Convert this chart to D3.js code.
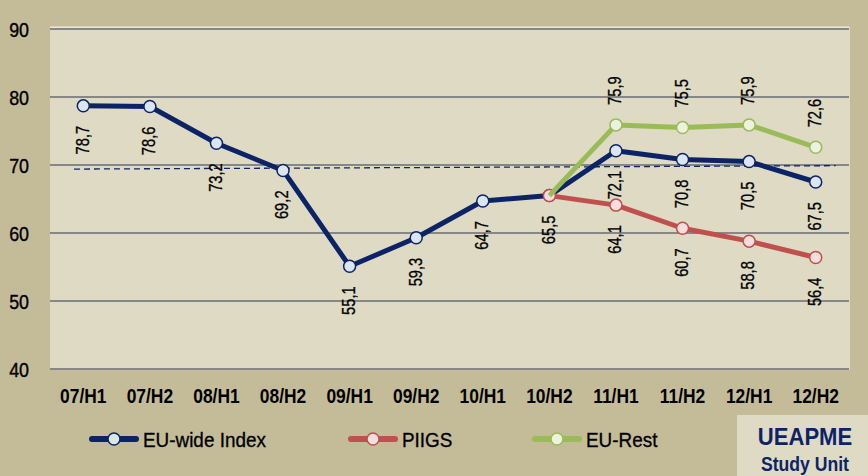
<!DOCTYPE html>
<html>
<head>
<meta charset="utf-8">
<script src="https://cdn.jsdelivr.net/npm/d3@7"></script>
<style>
  body { margin: 0; background: #c4bc98; }
  svg { display: block; font-family: "Liberation Sans", Arial, sans-serif; }
</style>
</head>
<body>
<div id="chart-container"></div>
<script>
const width = 868, height = 476;
const margin = { top: 29, left: 50, right: 19, bottom: 107 };

const categories = ["07/H1", "07/H2", "08/H1", "08/H2", "09/H1", "09/H2",
  "10/H1", "10/H2", "11/H1", "11/H2", "12/H1", "12/H2"];
const euWide = [78.7, 78.6, 73.2, 69.2, 55.1, 59.3, 64.7, 65.5, 72.1, 70.8, 70.5, 67.5];
const piigs = [null, null, null, null, null, null, null, 65.5, 64.1, 60.7, 58.8, 56.4];
const euRest = [null, null, null, null, null, null, null, 65.5, 75.9, 75.5, 75.9, 72.6];
const trend = [69.4, 69.9];
const yTicks = [40, 50, 60, 70, 80, 90];

const series = [
  { name: "EU-wide Index", values: euWide, color: "#0c2466", fill: "#dce6f2", labelPos: "below", skipFirstMarker: false },
  { name: "PIIGS", values: piigs, color: "#c0504d", fill: "#f5dedd", labelPos: "below", skipFirstMarker: false, skipFirstLabel: true },
  { name: "EU-Rest", values: euRest, color: "#9bbb59", fill: "#edf2e0", labelPos: "above", skipFirstMarker: true, skipFirstLabel: true }
];

const svg = d3.select("#chart-container").append("svg")
  .attr("width", width).attr("height", height);

svg.append("rect").attr("width", width).attr("height", height).attr("fill", "#c4bc98");

const x = d3.scaleBand().domain(categories).range([margin.left, width - margin.right]);
const y = d3.scaleLinear().domain([40, 90]).range([height - margin.bottom, margin.top]);
const cx = c => x(c) + x.bandwidth() / 2;

// plot area
svg.append("rect")
  .attr("x", margin.left).attr("y", margin.top - 2)
  .attr("width", width - margin.right - margin.left + 1)
  .attr("height", height - margin.bottom - margin.top + 3)
  .attr("fill", "#dedac4");
svg.append("line")
  .attr("x1", margin.left).attr("x2", width - margin.right)
  .attr("y1", margin.top - 2).attr("y2", margin.top - 2)
  .attr("stroke", "#f2efe2").attr("stroke-width", 1);

// grid
svg.append("g").selectAll("line").data(yTicks).join("line")
  .attr("x1", margin.left).attr("x2", width - margin.right)
  .attr("y1", d => y(d)).attr("y2", d => y(d))
  .attr("stroke", "#878787").attr("stroke-width", 2);

// y axis
const yAxis = svg.append("g")
  .attr("transform", `translate(${margin.left},0)`)
  .call(d3.axisLeft(y).tickValues(yTicks).tickSize(0).tickFormat(d3.format("d")));
yAxis.select(".domain").remove();
yAxis.selectAll("text")
  .attr("x", null).attr("dy", "0.36em")
  .attr("transform", "translate(-21,0) scale(0.85,1)")
  .attr("font-size", 21).attr("fill", "#000")
  .attr("stroke", "#000").attr("stroke-width", 0.4)
  .attr("font-family", "Liberation Sans, Arial");

// x axis
const xAxis = svg.append("g")
  .attr("transform", `translate(0,${height - margin.bottom})`)
  .call(d3.axisBottom(x).tickSize(0).tickPadding(19));
xAxis.select(".domain").remove();
xAxis.selectAll("text")
  .attr("transform", "scale(0.83,1)")
  .attr("font-size", 21).attr("font-weight", "bold").attr("fill", "#000")
  .attr("font-family", "Liberation Sans, Arial");

// dashed trend line
const step = x.step();
svg.append("line")
  .attr("x1", cx(categories[0]) - 0.14 * step)
  .attr("x2", cx(categories[categories.length - 1]) + 0.3 * step)
  .attr("y1", y(trend[0])).attr("y2", y(trend[1]))
  .attr("stroke", "#0c2466").attr("stroke-width", 1.3)
  .attr("stroke-dasharray", "6,4");

const line = d3.line()
  .defined(d => d.v != null)
  .x(d => cx(d.c)).y(d => y(d.v));

const gLines = svg.append("g");
const gLabels = svg.append("g");

series.forEach(s => {
  const pts = s.values.map((v, i) => ({ c: categories[i], v: v }));
  const defined = pts.filter(d => d.v != null);

  gLines.append("path")
    .datum(pts)
    .attr("d", line)
    .attr("fill", "none")
    .attr("stroke", s.color)
    .attr("stroke-width", 5)
    .attr("stroke-linejoin", "round");

  gLines.append("g").selectAll("circle")
    .data(s.skipFirstMarker ? defined.slice(1) : defined)
    .join("circle")
    .attr("cx", d => cx(d.c)).attr("cy", d => y(d.v))
    .attr("r", 6)
    .attr("fill", s.fill)
    .attr("stroke", s.color)
    .attr("stroke-width", 1.5);

  gLabels.selectAll(null)
    .data(s.skipFirstLabel ? defined.slice(1) : defined)
    .join("text")
    .attr("transform", d => {
      const py = y(d.v) + (s.labelPos === "below" ? 20 : -20);
      return `translate(${cx(d.c) - 1},${py}) rotate(-90) scale(0.84,1)`;
    })
    .attr("text-anchor", s.labelPos === "below" ? "end" : "start")
    .attr("dy", "0.36em")
    .attr("font-size", 17.5)
    .attr("fill", "#000")
    .attr("stroke", "#000").attr("stroke-width", 0.3)
    .text(d => d3.format(".1f")(d.v).replace(".", ","));
});

// legend
const legendX = [90, 349, 533];
const legend = svg.append("g").attr("transform", "translate(0,439)");
series.forEach((s, i) => {
  const g = legend.append("g").attr("transform", `translate(${legendX[i]},0)`);
  g.append("line")
    .attr("x1", 2).attr("x2", 46).attr("y1", 0).attr("y2", 0)
    .attr("stroke", s.color).attr("stroke-width", 6).attr("stroke-linecap", "round");
  g.append("circle")
    .attr("cx", 24).attr("cy", 0).attr("r", 6)
    .attr("fill", s.fill).attr("stroke", s.color).attr("stroke-width", 1.5);
  g.append("text")
    .attr("transform", "translate(53,0) scale(0.9,1)")
    .attr("dy", "0.36em")
    .attr("font-size", 21)
    .attr("fill", "#000")
    .attr("stroke", "#000").attr("stroke-width", 0.35)
    .text(s.name);
});

// logo box
const logo = svg.append("g").attr("transform", "translate(737,415)");
logo.append("rect").attr("width", 131).attr("height", 61).attr("fill", "#dedac4");
logo.append("text")
  .attr("transform", "translate(68,30) scale(0.92,1)")
  .attr("text-anchor", "middle")
  .attr("font-size", 24).attr("font-weight", "bold").attr("fill", "#0c2466")
  .text("UEAPME");
logo.append("text")
  .attr("transform", "translate(68,56) scale(0.88,1)")
  .attr("text-anchor", "middle")
  .attr("font-size", 20).attr("font-weight", "bold").attr("fill", "#0c2466")
  .text("Study Unit");
</script>
</body>
</html>
